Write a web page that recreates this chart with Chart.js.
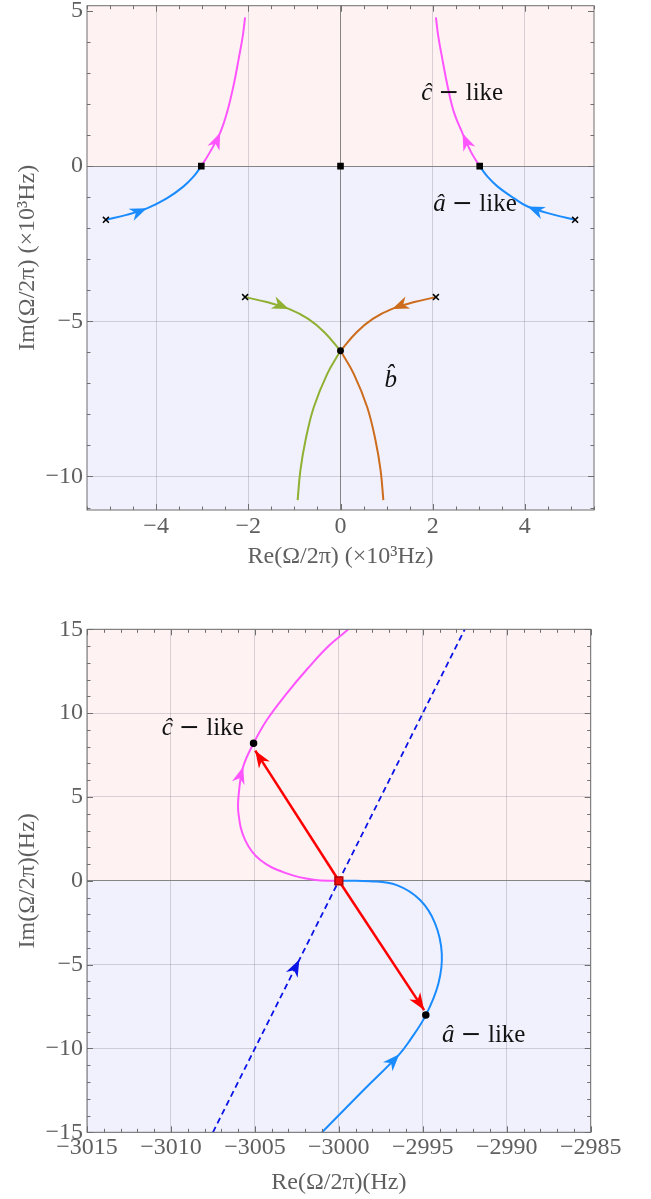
<!DOCTYPE html>
<html>
<head>
<meta charset="utf-8">
<script src="https://cdn.jsdelivr.net/npm/chart.js@4.4.1/dist/chart.umd.min.js"></script>
<style>
  html, body { margin: 0; padding: 0; background: #fff; overflow: hidden; }
  canvas { position: absolute; left: 0; }
  #top-chart { top: 0; }
  #zoom-chart { top: 600px; }
</style>
</head>
<body>
<canvas id="top-chart" width="651" height="590"></canvas>
<canvas id="zoom-chart" width="651" height="599"></canvas>
<script>
// ---- top panel: full locus, in units of 10^3 Hz ----
const topXTicks = [-4, -2, 0, 2, 4];
const topYTicks = [-10, -5, 0, 5];

const aLikeLeft = [[-5.09, -1.73], [-4.64, -1.57], [-4.2, -1.36], [-3.77, -1.04], [-3.41, -0.66], [-3.19, -0.34], [-3.02, 0]];
const cLikeLeft = [[-3.02, 0], [-2.83, 0.46], [-2.61, 1.08], [-2.46, 1.74], [-2.32, 2.6], [-2.21, 3.45], [-2.12, 4.2], [-2.07, 4.79]];
const aLikeRight = [[5.09, -1.73], [4.64, -1.57], [4.06, -1.3], [3.77, -1.04], [3.41, -0.66], [3.19, -0.34], [3.02, 0]];
const cLikeRight = [[3.02, 0], [2.83, 0.46], [2.65, 1.05], [2.46, 1.74], [2.32, 2.6], [2.21, 3.45], [2.12, 4.2], [2.07, 4.79]];
const bLeftUpper = [[-2.07, -4.22], [-1.6, -4.38], [-1.12, -4.6], [-0.7, -4.92], [-0.35, -5.35], [0, -5.95]];
const bLeftLower = [[0, -5.95], [-0.29, -6.7], [-0.58, -7.77], [-0.76, -8.84], [-0.87, -9.8], [-0.93, -10.76]];
const bRightUpper = [[2.07, -4.22], [1.6, -4.38], [1.12, -4.6], [0.7, -4.92], [0.35, -5.35], [0, -5.95]];
const bRightLower = [[0, -5.95], [0.29, -6.7], [0.58, -7.77], [0.76, -8.84], [0.87, -9.8], [0.93, -10.76]];
const topCrosses = [[-5.09, -1.73], [5.09, -1.73], [-2.07, -4.22], [2.07, -4.22]];
const topSquares = [[-3.02, 0], [0, 0], [3.02, 0]];
const topDots = [[0, -5.95]];

// ---- bottom panel: zoom around -3000 Hz ----
const zoomXTicks = [-3015, -3010, -3005, -3000, -2995, -2990, -2985];
const zoomYTicks = [-15, -10, -5, 0, 5, 10, 15];

const cLikeZoom = [[-3000, 0], [-3001.5, 0.06], [-3003.1, 0.44], [-3004.68, 1.24], [-3005.58, 2.43], [-3005.98, 4.02],
  [-3005.95, 5.3], [-3005.7, 6.8], [-3005.08, 8.2], [-3004.29, 9.59], [-3003.1, 11.18], [-3001.83, 12.69],
  [-3000.58, 14.03], [-2999.43, 15]];
const aLikeZoom = [[-3001, -15], [-2998.54, -12.49], [-2996.4, -10.35], [-2995.76, -9.5], [-2994.82, -8.01],
  [-2994.07, -6.12], [-2993.87, -4.33], [-2994.27, -2.54], [-2995.16, -1.15], [-2996.55, -0.26],
  [-2998.14, -0.02], [-3000, 0]];
const dashedPath = [[-3007.5, -15], [-3002.35, -4.7], [-2992.5, 15]];
const redToC = [[-3000, 0], [-3004.98, 7.76]];
const redToA = [[-3000, 0], [-2994.92, -7.71]];
const zoomDots = [[-3005.08, 8.2], [-2994.82, -8.01]];
const zoomCentre = [[-3000, 0]];

const SERIF = '"Liberation Serif", "Times New Roman", serif';
const GREY = '#5f5f5f';
const MAGENTA = '#ff55ff';
const BLUE = '#1a8cff';
const GREEN = '#8fb032';
const ORANGE = '#cc6c1c';

const pts = arr => arr.map(([x, y]) => ({ x, y }));
const fmt = v => String(v).replace('-', '\u2212');

const curve = (label, data, color, extra) => Object.assign({
  label, data: pts(data), showLine: true, borderColor: color, borderWidth: 2,
  pointRadius: 0, tension: 0.4, fill: false,
}, extra || {});

const marks = (label, data, style, radius, color, fillColor) => ({
  label, data: pts(data), showLine: false, pointStyle: style, pointRadius: radius,
  pointBorderColor: color, pointBackgroundColor: fillColor || color, pointBorderWidth: 1.5,
});

function axis(ticks, min, max, title, o) {
  return {
    type: 'linear', min, max,
    afterBuildTicks: s => { s.ticks = ticks.map(value => ({ value })); },
    afterFit: s => {
      if (o.height) { s.height = o.height; s.paddingLeft = 0; s.paddingRight = 0; }
      if (o.width) { s.width = o.width; s.paddingTop = 0; s.paddingBottom = 0; }
    },
    ticks: { callback: fmt, font: { family: SERIF, size: 24 }, color: GREY, padding: o.labelPad, maxRotation: 0, autoSkip: false },
    grid: {
      drawTicks: false, lineWidth: 1,
      color: c => o.hidden && o.hidden.includes(c.tick.value) ? 'rgba(0,0,0,0)'
        : (c.tick.value === 0 && o.darkZero ? '#858585' : 'rgba(90,90,110,0.24)'),
    },
    border: { display: false },
    title: { display: true, text: title, font: { family: SERIF, size: 24 }, color: GREY, padding: o.titlePad },
  };
}

// light pink above Im = 0, light lavender below
const shade = () => ({
  id: 'shade',
  beforeDraw(chart) {
    const { ctx, chartArea: a, scales: { y } } = chart;
    const y0 = y.getPixelForValue(0);
    ctx.save();
    ctx.fillStyle = '#fff2f3';
    ctx.fillRect(a.left, a.top, a.width, y0 - a.top);
    ctx.fillStyle = '#f1f1fd';
    ctx.fillRect(a.left, y0, a.width, a.bottom - y0);
    ctx.restore();
  },
});

// frame with inward major / minor ticks on all four sides
const frame = (xTicks, yTicks, xMinor, yMinor) => ({
  id: 'frame',
  afterDatasetsDraw(chart) {
    const { ctx, chartArea: a, scales: { x, y } } = chart;
    const isMajor = (v, list) => list.some(t => Math.abs(t - v) < 1e-6);
    ctx.save();
    ctx.strokeStyle = '#6e6e6e';
    ctx.lineWidth = 1;
    ctx.strokeRect(a.left, a.top, a.width, a.height);
    ctx.beginPath();
    for (let v = Math.ceil(x.min / xMinor) * xMinor; v <= x.max + 1e-9; v += xMinor) {
      const p = Math.round(x.getPixelForValue(v)) + 0.5;
      const len = isMajor(v, xTicks) ? 6 : 3.5;
      ctx.moveTo(p, a.bottom); ctx.lineTo(p, a.bottom - len);
      ctx.moveTo(p, a.top); ctx.lineTo(p, a.top + len);
    }
    for (let v = Math.ceil(y.min / yMinor) * yMinor; v <= y.max + 1e-9; v += yMinor) {
      const p = Math.round(y.getPixelForValue(v)) + 0.5;
      const len = isMajor(v, yTicks) ? 6 : 3.5;
      ctx.moveTo(a.left, p); ctx.lineTo(a.left + len, p);
      ctx.moveTo(a.right, p); ctx.lineTo(a.right - len, p);
    }
    ctx.stroke();
    ctx.restore();
  },
});

// notched arrowheads placed on a dataset point, pointing along the path
const arrows = list => ({
  id: 'arrows',
  afterDatasetsDraw(chart) {
    const { ctx } = chart;
    list.forEach(({ label, i }) => {
      const idx = chart.data.datasets.findIndex(d => d.label === label);
      const els = chart.getDatasetMeta(idx).data;
      const tip = els[i];
      const a = els[Math.max(i - 1, 0)];
      const b = els[Math.min(i + 1, els.length - 1)];
      let ux = b.x - a.x, uy = b.y - a.y;
      const n = Math.hypot(ux, uy);
      ux /= n; uy /= n;
      const L = 17, W = 6.5, N = 5, nx = -uy, ny = ux;
      ctx.save();
      ctx.beginPath();
      ctx.moveTo(tip.x, tip.y);
      ctx.lineTo(tip.x - L * ux + W * nx, tip.y - L * uy + W * ny);
      ctx.lineTo(tip.x - (L - N) * ux, tip.y - (L - N) * uy);
      ctx.lineTo(tip.x - L * ux - W * nx, tip.y - L * uy - W * ny);
      ctx.closePath();
      ctx.fillStyle = chart.data.datasets[idx].borderColor;
      ctx.fill();
      ctx.restore();
    });
  },
});

// mode labels: italic hatted symbol followed by " − like"
const notes = list => ({
  id: 'notes',
  afterDatasetsDraw(chart) {
    const { ctx, scales: { x, y } } = chart;
    ctx.save();
    ctx.fillStyle = '#111';
    ctx.textBaseline = 'middle';
    ctx.textAlign = 'left';
    list.forEach(n => {
      const parts = [[n.sym, 'italic 25px ' + SERIF]];
      if (n.tail) {
        parts.push([' ', '25px ' + SERIF]);
        parts.push(['−', '25px "DejaVu Serif", serif']);
        parts.push([n.tail, '25px ' + SERIF]);
      }
      let w = 0;
      parts.forEach(p => { ctx.font = p[1]; w += ctx.measureText(p[0]).width; });
      let px = x.getPixelForValue(n.x) - w / 2;
      const py = y.getPixelForValue(n.y);
      parts.forEach(p => {
        ctx.font = p[1];
        ctx.fillText(p[0], px, py);
        px += ctx.measureText(p[0]).width;
      });
    });
    ctx.restore();
  },
});

function makeChart(canvasID, cfg) {
  const ctx = document.getElementById(canvasID).getContext('2d');
  return new Chart(ctx, {
    type: 'scatter',
    data: { datasets: cfg.datasets },
    options: {
      responsive: false,
      animation: false,
      events: [],
      layout: { padding: cfg.padding },
      plugins: { legend: { display: false }, tooltip: { enabled: false } },
      scales: cfg.scales,
    },
    plugins: [shade(), frame(cfg.xTicks, cfg.yTicks, cfg.xMinor, cfg.yMinor), arrows(cfg.arrows), notes(cfg.notes)],
  });
}

makeChart('top-chart', {
  padding: { top: 3, right: 57, left: 0, bottom: 0 },
  xTicks: topXTicks, yTicks: topYTicks, xMinor: 0.5, yMinor: 1,
  datasets: [
    marks('crosses', topCrosses, 'crossRot', 4.2, '#000'),
    marks('squares', topSquares, 'rect', 3.6, '#000'),
    marks('dots', topDots, 'circle', 2.7, '#000'),
    curve('aLikeLeft', aLikeLeft, BLUE),
    curve('cLikeLeft', cLikeLeft, MAGENTA),
    curve('aLikeRight', aLikeRight, BLUE),
    curve('cLikeRight', cLikeRight, MAGENTA),
    curve('bLeftUpper', bLeftUpper, GREEN),
    curve('bLeftLower', bLeftLower, GREEN),
    curve('bRightUpper', bRightUpper, ORANGE),
    curve('bRightLower', bRightLower, ORANGE),
  ],
  arrows: [
    { label: 'aLikeLeft', i: 2 }, { label: 'cLikeLeft', i: 2 },
    { label: 'aLikeRight', i: 2 }, { label: 'cLikeRight', i: 2 },
    { label: 'bLeftUpper', i: 2 }, { label: 'bRightUpper', i: 2 },
  ],
  notes: [
    { sym: 'ĉ', tail: ' like', x: 2.64, y: 2.33 },
    { sym: 'â', tail: ' like', x: 2.92, y: -1.22 },
    { sym: 'b\u0302', x: 1.09, y: -6.91 },
  ],
  scales: {
    x: axis(topXTicks, -5.5, 5.5, 'Re(Ω/2π) (×10³Hz)',
      { height: 80, labelPad: 2.3, titlePad: { top: 0, bottom: 18.9 }, darkZero: true }),
    y: axis(topYTicks, -11.08, 5.17, 'Im(Ω/2π) (×10³Hz)',
      { width: 87, labelPad: 4, titlePad: { top: 13.4, bottom: 0 }, darkZero: true, hidden: [5] }),
  },
});

makeChart('zoom-chart', {
  padding: { top: 29.3, right: 60.3, left: 0, bottom: 0 },
  xTicks: zoomXTicks, yTicks: zoomYTicks, xMinor: 1, yMinor: 1,
  datasets: [
    marks('centre', zoomCentre, 'rect', 5.5, '#b00000', '#ee1111'),
    marks('dots', zoomDots, 'circle', 3, '#000'),
    curve('redToC', redToC, '#ff0000', { tension: 0, borderWidth: 2.5 }),
    curve('redToA', redToA, '#ff0000', { tension: 0, borderWidth: 2.5 }),
    curve('dashed', dashedPath, '#0a14e6', { tension: 0, borderWidth: 1.8, borderDash: [6, 4] }),
    curve('cLikeZoom', cLikeZoom, MAGENTA),
    curve('aLikeZoom', aLikeZoom, BLUE),
  ],
  arrows: [
    { label: 'cLikeZoom', i: 7 }, { label: 'aLikeZoom', i: 2 }, { label: 'dashed', i: 1 },
    { label: 'redToC', i: 1 }, { label: 'redToA', i: 1 },
  ],
  notes: [
    { sym: 'ĉ', tail: ' like', x: -3008.11, y: 9.09 },
    { sym: 'â', tail: ' like', x: -2991.37, y: -9.21 },
  ],
  scales: {
    x: axis(zoomXTicks, -3015, -2985, 'Re(Ω/2π)(Hz)',
      { height: 66.7, labelPad: 1.3, titlePad: { top: 0, bottom: 1.6 } }),
    y: axis(zoomYTicks, -15, 15, 'Im(Ω/2π)(Hz)',
      { width: 87, labelPad: 4, titlePad: { top: 13.4, bottom: 0 }, darkZero: true }),
  },
});
</script>
</body>
</html>
